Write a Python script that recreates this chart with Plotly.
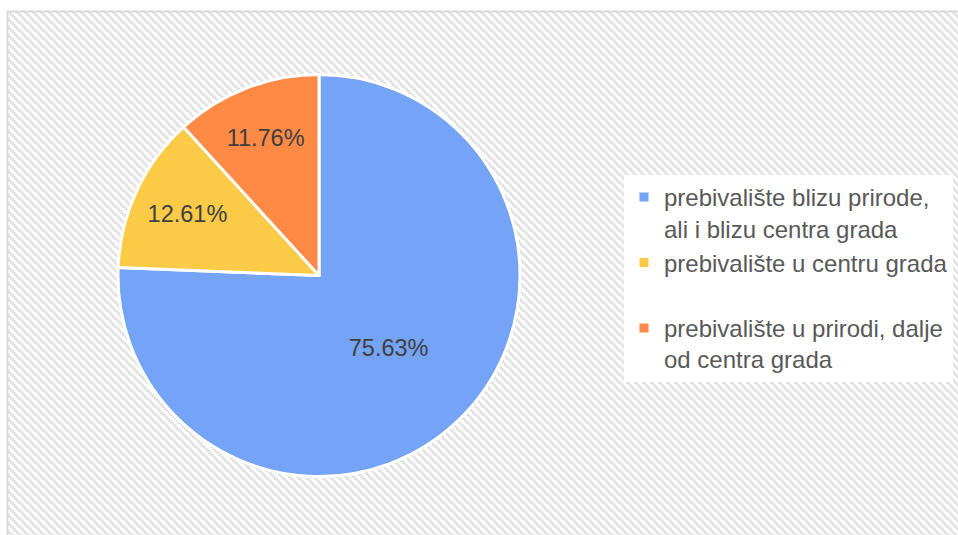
import base64
import plotly.graph_objects as go

# ---- data ----
labels = [
    "prebivalište blizu prirode,<br>ali i blizu centra grada",
    "prebivalište u centru grada<br>&nbsp;",
    "prebivalište u prirodi, dalje<br>od centra grada",
]
counts = [90, 15, 14]
slice_colors = ["#75A3F6", "#FBCB47", "#FF8A45"]

W, H = 958, 535

# hatched chart-area background (pattern tile, decorative)
bx0, by0 = 8, 12
bw, bh = W - bx0, H - by0
g = "#e4e4e4"
svg = f'''<svg xmlns="http://www.w3.org/2000/svg" width="{bw}" height="{bh}" shape-rendering="crispEdges">
<defs><pattern id="p" patternUnits="userSpaceOnUse" width="8" height="8">
<rect width="8" height="8" fill="#ffffff"/>
<rect x="0" y="0" width="4" height="2" fill="{g}"/>
<rect x="2" y="2" width="4" height="2" fill="{g}"/>
<rect x="4" y="4" width="4" height="2" fill="{g}"/>
<rect x="6" y="6" width="2" height="2" fill="{g}"/>
<rect x="0" y="6" width="2" height="2" fill="{g}"/>
</pattern></defs>
<rect width="{bw}" height="{bh}" fill="url(#p)"/>
</svg>'''
src = "data:image/svg+xml;base64," + base64.b64encode(svg.encode()).decode()

cx, cy, r = 319, 275.5, 201
fig = go.Figure(
    go.Pie(
        labels=labels,
        values=counts,
        sort=False,
        direction="clockwise",
        rotation=0,
        marker=dict(colors=slice_colors, line=dict(color="white", width=3)),
        texttemplate="%{percent:.2%}",
        textposition="inside",
        insidetextorientation="horizontal",
        textfont=dict(family="Liberation Sans, Arial", size=23.5, color="#404040"),
        hoverinfo="label+percent",
        domain=dict(
            x=[(cx - r) / W, (cx + r) / W],
            y=[(H - cy - r) / H, (H - cy + r) / H],
        ),
    )
)

fig.update_layout(
    width=W,
    height=H,
    margin=dict(l=0, r=0, t=0, b=0),
    paper_bgcolor="white",
    plot_bgcolor="white",
    font=dict(family="Liberation Sans, Arial", color="#595959"),
    legend=dict(
        x=624 / W,
        y=1 - 175 / H,
        xanchor="left",
        yanchor="top",
        bgcolor="white",
        font=dict(size=24, color="#595959"),
        valign="top",
        itemclick=False,
    ),
    images=[
        dict(
            source=src,
            xref="paper",
            yref="paper",
            x=bx0 / W,
            y=1 - by0 / H,
            sizex=bw / W,
            sizey=bh / H,
            xanchor="left",
            yanchor="top",
            sizing="stretch",
            layer="below",
        )
    ],
    shapes=[
        dict(
            type="rect",
            xref="paper",
            yref="paper",
            x0=(bx0 - 0.5) / W,
            x1=1.05,
            y0=-0.05,
            y1=1 - (by0 - 0.5) / H,
            line=dict(color="#d9d9d9", width=2),
            fillcolor="rgba(0,0,0,0)",
            layer="below",
        )
    ],
)

fig.write_html(
    "out.html",
    config={"displayModeBar": False},
    post_script="document.body.style.margin='0';document.body.style.overflow='hidden';",
)
